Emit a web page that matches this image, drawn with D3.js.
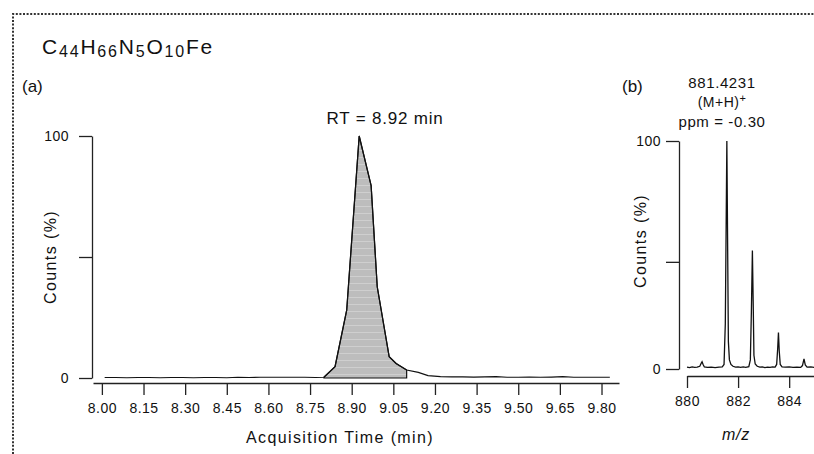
<!DOCTYPE html>
<html lang="en">
<head>
<meta charset="utf-8">
<title>C44H66N5O10Fe chromatogram and spectrum</title>
<script src="https://cdn.jsdelivr.net/npm/d3@7"></script>
<style>
  body { margin: 0; background: #fff; }
  text { font-family: "Liberation Sans", Arial, sans-serif; fill: #111; }
</style>
</head>
<body>
<svg id="fig" width="814" height="454"></svg>
<script>
// (a) extracted ion chromatogram, time in min, counts in %
var ticTime = [8.01, 8.05, 8.09, 8.13, 8.17, 8.21, 8.25, 8.29, 8.33, 8.37,
               8.41, 8.45, 8.49, 8.53, 8.57, 8.61, 8.65, 8.69, 8.73, 8.77,
               8.80, 8.84, 8.882, 8.927, 8.97, 8.992, 9.035, 9.06, 9.098,
               9.14, 9.175, 9.22,
               9.26, 9.30, 9.34, 9.38, 9.42, 9.46, 9.50, 9.54, 9.58, 9.62,
               9.66, 9.70, 9.74, 9.78, 9.83];
var ticCounts = [0.2, 0.2, 0.1, 0.2, 0.2, 0.1, 0.2, 0.2, 0.1, 0.2,
                 0.2, 0.1, 0.3, 0.2, 0.3, 0.3, 0.3, 0.3, 0.3, 0.2,
                 0.3, 4.7, 28, 100, 79.5, 37.7, 8.8, 6.0, 3.3,
                 2.3, 1.0, 0.6,
                 0.5, 0.5, 0.4, 0.5, 0.6, 0.3, 0.3, 0.4, 0.3, 0.4,
                 0.6, 0.3, 0.3, 0.3, 0.3];
var timeTicks = [8.00, 8.15, 8.30, 8.45, 8.60, 8.75, 8.90, 9.05, 9.20, 9.35, 9.50, 9.65, 9.80];
var countTicksA = [0, 50, 100];
var peakStart = 8.80, peakEnd = 9.098;

// (b) mass spectrum, m/z and counts in %
var specMz = [880.00, 880.10, 880.20, 880.30, 880.40, 880.50, 880.56, 880.59, 880.63, 880.68,
              880.80, 880.95, 881.10, 881.25, 881.38, 881.45, 881.50, 881.53, 881.56, 881.59,
              881.62, 881.66, 881.72, 881.80, 881.90, 882.00, 882.10, 882.20, 882.30, 882.42,
              882.48, 882.52, 882.56, 882.59, 882.62, 882.67, 882.75, 882.85, 882.95, 883.05,
              883.15, 883.25, 883.35, 883.45, 883.51, 883.55, 883.58, 883.61, 883.65, 883.72,
              883.85, 884.00, 884.15, 884.30, 884.45, 884.52, 884.58, 884.63, 884.70, 884.85,
              885.00, 885.15];
var specCounts = [0.8, 0.6, 0.9, 0.7, 0.8, 1.2, 2.6, 3.2, 2.0, 0.9,
                  0.7, 0.8, 0.6, 0.8, 0.9, 2.0, 20, 60, 100, 55,
                  12, 4, 2, 1.2, 0.8, 0.9, 0.7, 0.9, 0.7, 1.0,
                  4, 25, 52, 30, 6, 2.2, 1.2, 0.8, 0.9, 0.6,
                  0.8, 0.7, 0.9, 0.8, 2, 9, 16, 8, 2, 0.9,
                  0.8, 0.9, 0.7, 0.8, 0.7, 1.5, 4.4, 1.8, 0.8, 0.9,
                  0.7, 0.8];
var mzTicks = [880, 882, 884];
var countTicksB = [0, 47, 100];

var svg = d3.select("#fig");

// stripey grey fill like the original integration area
var pat = svg.append("defs").append("pattern")
    .attr("id", "area-fill")
    .attr("patternUnits", "userSpaceOnUse")
    .attr("width", 8).attr("height", 7);
pat.append("rect").attr("width", 8).attr("height", 7).attr("fill", "#bdbdbd");
pat.append("rect").attr("y", 3).attr("width", 8).attr("height", 1).attr("fill", "#cfcfcf");

// dotted frame
svg.append("path")
    .attr("d", "M13,454 L13,14 L814,14")
    .attr("fill", "none")
    .attr("stroke", "#333")
    .attr("stroke-width", 2)
    .attr("stroke-dasharray", "2,1.6");

// formula title
var title = svg.append("text").attr("x", 42).attr("y", 54)
    .style("font-size", "21px").style("letter-spacing", "1.8px");
var parts = [["C", 0], ["44", 1], ["H", 0], ["66", 1], ["N", 0], ["5", 1], ["O", 0], ["10", 1], ["Fe", 0]];
parts.forEach(function(p, i) {
  var prevSub = i > 0 ? parts[i - 1][1] : 0;
  var dy = p[1] ? 3 : (prevSub ? -3 : 0);
  title.append("tspan")
      .attr("dy", dy)
      .style("font-size", p[1] ? "16px" : "21px")
      .text(p[0]);
});

function styleAxis(g) {
  g.selectAll("path, line").attr("stroke", "#222").attr("stroke-width", 1.3);
  g.selectAll("text").style("font-size", "14px").style("letter-spacing", "0.5px").attr("fill", "#111");
}

// ---------- (a) ----------
var xA = d3.scaleLinear().domain([7.968, 9.863]).range([93, 619]);
var yA = d3.scaleLinear().domain([0, 100]).range([378, 136]);

svg.append("g")
    .attr("transform", "translate(0,383)")
    .call(d3.axisBottom(xA).tickValues(timeTicks).tickFormat(d3.format(".2f"))
        .tickSize(12).tickPadding(8).tickSizeOuter(0))
    .call(styleAxis);

svg.append("g")
    .attr("transform", "translate(92,0)")
    .call(d3.axisLeft(yA).tickValues(countTicksA)
        .tickFormat(function(d) { return d === 50 ? "" : d; })
        .tickSize(13).tickPadding(10).tickSizeOuter(0))
    .call(styleAxis);

var ticData = ticTime.map(function(t, i) { return {t: t, v: ticCounts[i]}; });
var peakData = ticData.filter(function(d) { return d.t >= peakStart && d.t <= peakEnd; });

svg.append("path")
    .datum(peakData)
    .attr("d", d3.area()
        .x(function(d) { return xA(d.t); })
        .y0(yA(0))
        .y1(function(d) { return yA(d.v); }))
    .attr("fill", "url(#area-fill)")
    .attr("stroke", "#111")
    .attr("stroke-width", 1.2);

svg.append("path")
    .datum(ticData)
    .attr("d", d3.line()
        .x(function(d) { return xA(d.t); })
        .y(function(d) { return yA(d.v); }))
    .attr("fill", "none")
    .attr("stroke", "#111")
    .attr("stroke-width", 1.2);

svg.append("text").attr("x", 22).attr("y", 92).style("font-size", "17px").text("(a)");
svg.append("text").attr("x", 385).attr("y", 124).attr("text-anchor", "middle")
    .style("font-size", "17px").style("letter-spacing", "0.8px").text("RT = 8.92 min");
svg.append("text").attr("text-anchor", "middle")
    .attr("transform", "translate(56,257) rotate(-90)")
    .style("font-size", "16px").style("letter-spacing", "1.4px").text("Counts (%)");
svg.append("text").attr("x", 340).attr("y", 443).attr("text-anchor", "middle")
    .style("font-size", "16px").style("letter-spacing", "1.4px").text("Acquisition Time (min)");

// ---------- (b) ----------
var xB = d3.scaleLinear().domain([880, 885.5]).range([687, 827.5]);
var yB = d3.scaleLinear().domain([0, 100]).range([369, 141]);

svg.append("g")
    .attr("transform", "translate(0,376)")
    .call(d3.axisBottom(xB).tickValues(mzTicks).tickFormat(d3.format("d"))
        .tickSize(12).tickPadding(8).tickSizeOuter(0))
    .call(styleAxis);

svg.append("g")
    .attr("transform", "translate(679,0)")
    .call(d3.axisLeft(yB).tickValues(countTicksB)
        .tickFormat(function(d) { return d === 100 || d === 0 ? d : ""; })
        .tickSize(13).tickPadding(5).tickSizeOuter(0))
    .call(styleAxis);

svg.append("path")
    .datum(specMz.map(function(m, i) { return {m: m, v: specCounts[i]}; }))
    .attr("d", d3.line()
        .x(function(d) { return xB(d.m); })
        .y(function(d) { return yB(d.v); }))
    .attr("fill", "none")
    .attr("stroke", "#111")
    .attr("stroke-width", 1.3);

svg.append("text").attr("x", 622).attr("y", 92).style("font-size", "17px").text("(b)");
svg.append("text").attr("x", 722).attr("y", 88).attr("text-anchor", "middle")
    .style("font-size", "15px").style("letter-spacing", "0.6px").text("881.4231");
var mh = svg.append("text").attr("x", 722).attr("y", 107).attr("text-anchor", "middle")
    .style("font-size", "14px").style("letter-spacing", "0.5px");
mh.append("tspan").text("(M+H)");
mh.append("tspan").attr("dy", -5).style("font-size", "11px").text("+");
svg.append("text").attr("x", 722).attr("y", 127).attr("text-anchor", "middle")
    .style("font-size", "15px").style("letter-spacing", "0.6px").text("ppm = -0.30");
svg.append("text").attr("text-anchor", "middle")
    .attr("transform", "translate(646,241) rotate(-90)")
    .style("font-size", "16px").style("letter-spacing", "1.4px").text("Counts (%)");
svg.append("text").attr("x", 736).attr("y", 440).attr("text-anchor", "middle")
    .style("font-size", "16px").style("font-style", "italic").style("letter-spacing", "0.8px").text("m/z");
</script>
</body>
</html>
